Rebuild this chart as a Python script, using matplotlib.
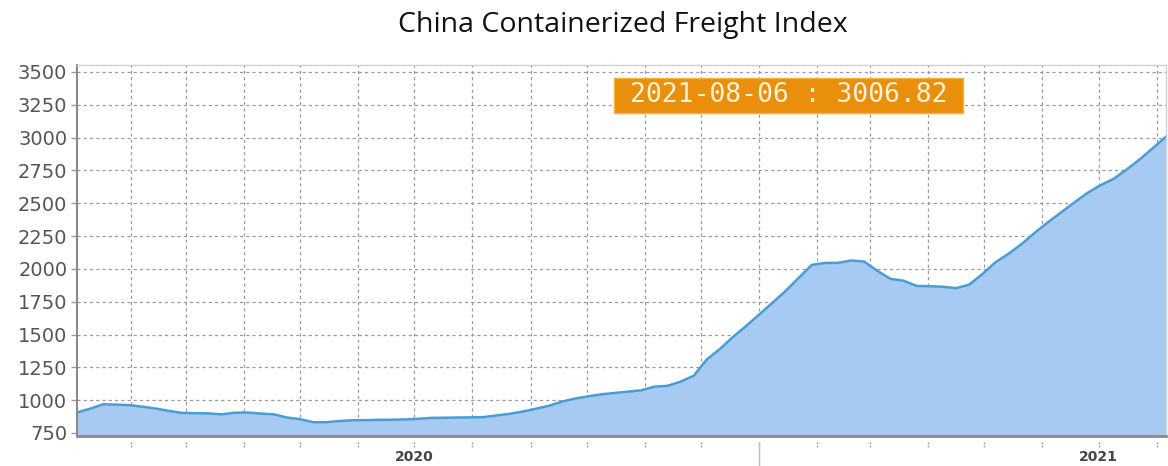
import matplotlib
matplotlib.use("Agg")
import matplotlib.pyplot as plt
import matplotlib.dates as mdates
from matplotlib.patches import Rectangle
import numpy as np
import pandas as pd

# weekly CCFI composite, Fridays from 2020-01-03 to 2021-08-06
dates = pd.date_range("2020-01-03", "2021-08-06", freq="7D")
ccfi = [906, 935, 969, 966, 962, 950, 936, 918, 903, 901,
        899, 892, 904, 906, 898, 892, 868, 855, 832, 832,
        841, 847, 848, 850, 851, 853, 858, 865, 866, 868,
        869, 871, 884, 896, 914, 935, 958, 990, 1013, 1030,
        1045, 1055, 1065, 1075, 1103, 1109, 1141, 1186, 1310, 1390,
        1482, 1565, 1653, 1741, 1831, 1931, 2030, 2045, 2046, 2064,
        2056, 1985, 1924, 1910, 1870, 1868, 1864, 1853, 1880, 1960,
        2050, 2115, 2190, 2275, 2355, 2430, 2505, 2578, 2637, 2685,
        2757, 2834, 2920, 3006.82]

yticks = np.arange(750, 3501, 250)
year_labels = ["2020", "2021"]
year_label_dates = pd.to_datetime(["2020-07-01", "2021-07-01"])
month_ticks = pd.date_range("2020-02-01", "2021-08-01", freq="MS")
year_break = pd.to_datetime(["2021-01-01"])

fig = plt.figure(figsize=(11.68, 4.66), dpi=100)
ax = fig.add_axes([77 / 1168, 30 / 466, 1089 / 1168, 371 / 466])

line_c = "#4a9dd4"
fill_c = "#a7caf3"
ax.fill_between(dates, ccfi, 0, color=fill_c, lw=0, zorder=2)
ax.plot(dates, ccfi, color=line_c, lw=1.8, zorder=3)

ax.set_xlim(dates[0], dates[-1])
ax.set_ylim(727, 3553)

# grid
grid_kw = dict(color="#9a9a9a", lw=0.9, ls=(0, (2.5, 2.5)), zorder=1)
for y in yticks:
    ax.axhline(y, **grid_kw)
for d in month_ticks:
    ax.axvline(d, **grid_kw)

ax.set_yticks(yticks)
ax.set_yticklabels([str(v) for v in yticks], fontsize=14, color="#555555")
ax.tick_params(axis="y", length=4, width=1, color="#999999", pad=3)

# x axis: month dashes below the frame, year names mid-year
ax.set_xticks(year_label_dates)
ax.set_xticklabels(year_labels, fontsize=10, fontweight="bold", color="#444444")
ax.tick_params(axis="x", length=0, pad=10)
ax.vlines(month_ticks, -0.015, -0.03, transform=ax.get_xaxis_transform(),
          color="#999999", lw=1, ls=(0, (1.5, 1)), clip_on=False)
ax.vlines(year_break, -0.015, -0.085, transform=ax.get_xaxis_transform(),
          color="#c0c0c0", lw=1, clip_on=False)

for s in ["top", "right"]:
    ax.spines[s].set_color("#d0d0d0")
    ax.spines[s].set_linewidth(1)
ax.spines["left"].set_color("#8a8a8a")
ax.spines["left"].set_linewidth(1.5)
ax.spines["bottom"].set_color("#8a8a8a")
ax.spines["bottom"].set_linewidth(2)
for s in ax.spines.values():
    s.set_zorder(4)

# latest value tag
last_label = f"{dates[-1]:%Y-%m-%d} : {ccfi[-1]:.2f}"
ax.add_patch(Rectangle(((614 - 77) / 1089, (436 - 113) / 371), 349 / 1089, 35 / 371,
                       transform=ax.transAxes, facecolor="#e98f0b",
                       edgecolor="#f2b04a", lw=1, zorder=5))
ax.text((788.5 - 77) / 1089, (436 - 95.5) / 371, last_label, transform=ax.transAxes,
        ha="center", va="center", fontsize=19, family="DejaVu Sans Mono",
        color="#fdf1d6", zorder=6)

fig.text(623 / 1168, 1 - 25 / 466, "China Containerized Freight Index",
         ha="center", va="center", fontsize=20.5, family="Open Sans", color="#111111")

fig.savefig("out.png", dpi=100)
